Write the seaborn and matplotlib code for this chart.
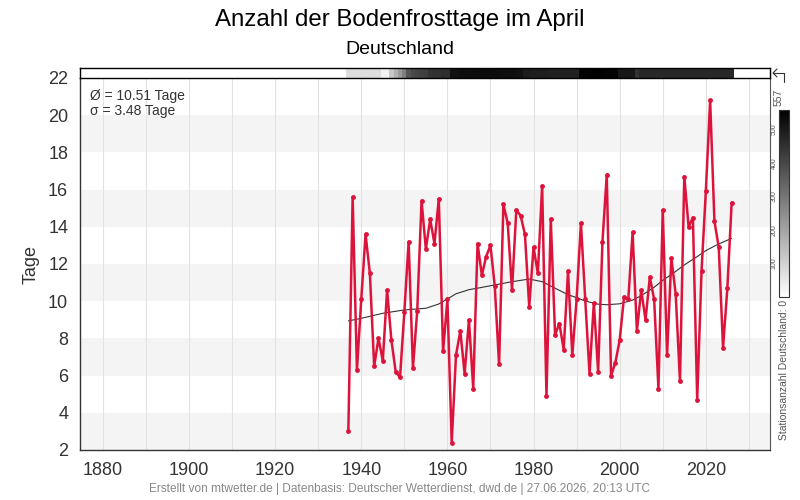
import numpy as np
import pandas as pd
import matplotlib
matplotlib.use("Agg")
import matplotlib.pyplot as plt
import matplotlib.colors as mcolors
from matplotlib.lines import Line2D
import seaborn as sns

years = list(range(1937, 2027))
frost_days = [
    3.0, 15.6, 6.3, 10.1, 13.6, 11.5, 6.5, 8.0, 6.8, 10.6,
    7.9, 6.2, 5.9, 9.4, 13.2, 6.4, 9.5, 15.4, 12.8, 14.4,
    13.1, 15.5, 7.3, 10.1, 2.4, 7.1, 8.4, 6.1, 9.0, 5.3,
    13.1, 11.4, 12.4, 13.0, 10.8, 6.6, 15.2, 14.2, 10.6, 14.9,
    14.6, 13.6, 9.7, 12.9, 11.5, 16.2, 4.9, 14.4, 8.2, 8.8,
    7.4, 11.6, 7.1, 10.1, 14.2, 10.1, 6.1, 9.9, 6.2, 13.2,
    16.8, 6.0, 6.7, 7.9, 10.2, 10.1, 13.7, 8.4, 10.6, 9.0,
    11.3, 10.1, 5.3, 14.9, 7.1, 12.3, 10.4, 5.7, 16.7, 14.0,
    14.5, 4.7, 11.6, 15.9, 20.8, 14.3, 12.9, 7.5, 10.7, 15.3,
]

# smoothed trend
trend_years = [1937, 1940, 1945, 1950, 1955, 1958, 1960, 1962, 1965, 1967,
               1970, 1975, 1979, 1982, 1985, 1988, 1990, 1992, 1995, 1997,
               2000, 2003, 2005, 2008, 2010, 2013, 2015, 2018, 2020, 2023, 2026]
trend_values = [8.94, 9.08, 9.35, 9.53, 9.62, 9.85, 10.12, 10.4, 10.62, 10.7,
                10.83, 11.05, 11.19, 11.05, 10.7, 10.35, 10.19, 10.01, 9.84, 9.81,
                9.86, 10.06, 10.3, 10.75, 11.12, 11.6, 11.95, 12.4, 12.72, 13.08, 13.38]

# number of stations per year (grey strip on top)
station_counts = [
    75, 75, 75, 75, 75, 75, 75, 75, 30, 30,
    120, 170, 220, 280, 370, 395, 405, 415, 420, 445,
    450, 450, 455, 455, 520, 520, 525, 525, 525, 528,
    528, 530, 530, 530, 530, 528, 525, 525, 525, 522,
    520, 495, 495, 490, 490, 488, 488, 485, 485, 485,
    485, 485, 485, 485, 545, 548, 550, 555, 557, 555,
    552, 550, 548, 505, 505, 505, 505, 445, 468, 468,
    468, 468, 468, 468, 468, 468, 468, 468, 468, 468,
    468, 468, 468, 468, 468, 468, 468, 468, 468, 468,
]
station_max = 557

mean_text = "Ø = 10.51 Tage"
std_text = "σ = 3.48 Tage"

df = pd.DataFrame({"Jahr": years, "Tage": frost_days})
trend = pd.DataFrame({"Jahr": trend_years, "Tage": trend_values})

sns.set_style("white")
plt.rcParams["font.family"] = ["Liberation Sans", "DejaVu Sans"]

W, H = 800, 500
fig = plt.figure(figsize=(8, 5), dpi=100)


def fx(px):
    return px / W


def fy(py):
    return 1 - py / H


ax = fig.add_axes([fx(80), fy(450), fx(770) - fx(80), fy(78) - fy(450)])
xmin, xmax = 1874.7, 2034.9

for lo in range(2, 22, 4):
    ax.axhspan(lo, lo + 2, color="#f4f4f4", zorder=0, lw=0)

sns.lineplot(data=trend, x="Jahr", y="Tage", ax=ax, color="#333333", lw=0.8, zorder=3)
sns.lineplot(data=df, x="Jahr", y="Tage", ax=ax, color="#dc143c", lw=1.8,
             marker="o", markersize=3.5, markeredgewidth=0, zorder=4)

ax.set_xlim(xmin, xmax)
ax.set_ylim(2, 22)
ax.set_xticks(range(1880, 2021, 20))
ax.set_xticks(range(1880, 2031, 10), minor=True)
ax.set_yticks(range(2, 23, 2))
ax.grid(axis="x", which="both", color="#e2e2e2", lw=0.8, zorder=1)
ax.set_axisbelow(True)
ax.tick_params(axis="both", which="major", labelsize=13, colors="#333333",
               length=5, width=1, direction="out")
ax.tick_params(axis="x", which="minor", length=0)
ax.set_xlabel("")
ax.set_ylabel("Tage", fontsize=13, color="#333333", labelpad=6)
for side in ["left", "bottom"]:
    ax.spines[side].set_color("#333333")
    ax.spines[side].set_linewidth(1)
ax.spines["right"].set_color("#555555")
ax.spines["right"].set_linewidth(0.8)
ax.spines["top"].set_visible(False)

fig.text(fx(90), fy(96), mean_text, fontsize=10, color="#333333", va="center", ha="left")
fig.text(fx(90), fy(111), std_text, fontsize=10, color="#333333", va="center", ha="left")

# station count strip
norm = mcolors.Normalize(0, station_max)
cmap = plt.get_cmap("gray_r")
ax_top = fig.add_axes([fx(80), fy(78), fx(770) - fx(80), fy(68) - fy(78)])
ax_top.bar(years, [1] * len(years), width=1.0, color=cmap(norm(np.array(station_counts))), lw=0)
ax_top.set_xlim(xmin, xmax)
ax_top.set_ylim(0, 1)
ax_top.set_xticks([])
ax_top.set_yticks([])
for s in ax_top.spines.values():
    s.set_color("black")
    s.set_linewidth(1)

# colorbar
cax = fig.add_axes([fx(779), fy(297), fx(789) - fx(779), fy(110) - fy(297)])
cb = matplotlib.colorbar.ColorbarBase(cax, cmap=cmap, norm=norm, orientation="vertical")
cb.set_ticks([100, 200, 300, 400, 500])
cb.outline.set_edgecolor("#333333")
cb.outline.set_linewidth(0.8)
cax.yaxis.set_ticks_position("left")
cax.tick_params(length=0, labelsize=5, labelcolor="#555555", pad=1)
for lab in cax.get_yticklabels():
    lab.set_rotation(90)
    lab.set_va("center")

fig.text(fx(779), fy(97), str(station_max), rotation=90, fontsize=7.5, color="#555555",
         ha="center", va="center")
fig.text(fx(784), fy(300), "Stationsanzahl Deutschland: 0", rotation=90, fontsize=7.5,
         color="#555555", ha="center", va="top")
arrow_color = "#333333"
fig.add_artist(Line2D([fx(777), fx(773), fx(777)], [fy(69), fy(73), fy(77)], color=arrow_color, lw=0.8))
fig.add_artist(Line2D([fx(773), fx(784), fx(784)], [fy(73), fy(73), fy(82)], color=arrow_color, lw=0.8))

fig.text(0.5, fy(20), "Anzahl der Bodenfrosttage im April", fontsize=17.3, color="black",
         ha="center", va="center")
fig.text(0.5, fy(50), "Deutschland", fontsize=14, color="black", ha="center", va="center")
fig.text(0.5, fy(489), "Erstellt von mtwetter.de | Datenbasis: Deutscher Wetterdienst, dwd.de | 27.06.2026, 20:13 UTC",
         fontsize=8.6, color="#888888", ha="center", va="center")

fig.savefig("out.png", dpi=100)
